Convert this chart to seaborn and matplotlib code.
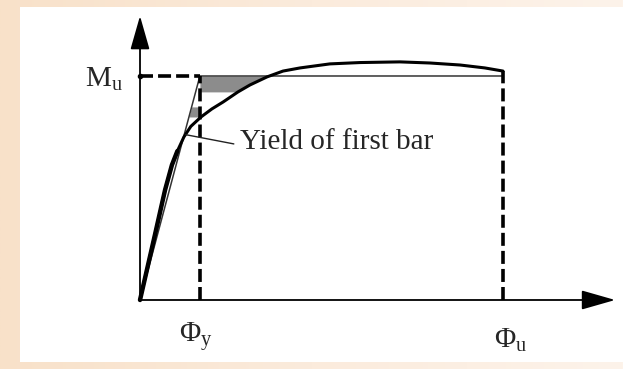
import numpy as np
import seaborn as sns
import matplotlib.pyplot as plt
from matplotlib.patches import Rectangle
from matplotlib.colors import LinearSegmentedColormap

# moment-curvature curve, curvature normalised by phi_u, moment by M_u
phi_curve = [0.0, 0.041, 0.069, 0.088, 0.103, 0.121, 0.140, 0.168, 0.198, 0.229,
             0.270, 0.303, 0.350, 0.394, 0.441, 0.523, 0.606, 0.716, 0.799, 0.882,
             0.950, 1.000]
m_curve = [0.0, 0.290, 0.491, 0.603, 0.665, 0.728, 0.775, 0.817, 0.853, 0.884,
           0.929, 0.960, 0.996, 1.022, 1.036, 1.054, 1.060, 1.063, 1.058, 1.049,
           1.036, 1.022]
phi_y = 0.165
phi_u = 1.0
m_u = 1.0
upper_band = [0.929, 1.0]   # shaded area above the curve
lower_band = [0.817, 0.862]  # shaded area left of the dashed line
yield_point = [0.121, 0.728]
labels = {"mu": "$\\mathrm{M_u}$", "phiy": "$\\mathrm{\\Phi_y}$",
          "phiu": "$\\mathrm{\\Phi_u}$", "yield": "Yield of first bar"}

sns.set_theme(style="white")
plt.rcParams["font.family"] = ["Liberation Serif", "DejaVu Serif"]
plt.rcParams["mathtext.fontset"] = "custom"
plt.rcParams["mathtext.rm"] = "Liberation Serif"
plt.rcParams["mathtext.it"] = "Liberation Serif:italic"

fig = plt.figure(figsize=(6.23, 3.69), dpi=100)

# peach background with a soft gradient, white panel on top
bg = fig.add_axes([0, 0, 1, 1])
grad = np.linspace(0, 1, 256)[None, :]
cmap = LinearSegmentedColormap.from_list("peach", ["#f8e1c9", "#fbebdc", "#fdf3ea"])
bg.imshow(grad, aspect="auto", cmap=cmap, extent=[0, 1, 0, 1])
bg.add_patch(Rectangle((20 / 623, 7 / 369), 603 / 623, 355 / 369,
                       color="white", lw=0))
bg.set_xlim(0, 1)
bg.set_ylim(0, 1)
bg.set_axis_off()

ax = fig.add_axes([20 / 623, 7 / 369, 603 / 623, 355 / 369])
ax.set_facecolor("none")
ax.set_xlim(-0.3306, 1.3306)
ax.set_ylim(-0.2768, 1.308)
ax.set_axis_off()

# shaded regions
m1 = np.linspace(upper_band[0], upper_band[1], 50)
ax.fill_betweenx(m1, phi_y, np.interp(m1, m_curve[:14], phi_curve[:14]),
                 color="#8c8c8c", lw=0)
m2 = np.linspace(lower_band[0], lower_band[1], 20)
ax.fill_betweenx(m2, m2 * phi_y / m_u, phi_y, color="#8c8c8c", lw=0)

# axes with arrows
arrow = dict(arrowstyle="-|>,head_length=1.05,head_width=0.3", lw=1.3,
             color="black", mutation_scale=20, shrinkA=0, shrinkB=0)
ax.annotate("", xy=(0, 1.268), xytext=(0, 0), arrowprops=arrow)
ax.annotate("", xy=(1.309, 0), xytext=(0, 0), arrowprops=arrow)

# idealised bilinear response
ax.plot([0, phi_y, phi_u], [0, m_u, m_u], color="#333333", lw=1.1)

# dashed guides
dash = dict(color="black", lw=2.6, dashes=(3.6, 1.4))
ax.plot([0, phi_y], [m_u, m_u], **dash)
ax.plot([phi_y, phi_y], [0, m_u], **dash)
ax.plot([phi_u, phi_u], [0, m_curve[-1]], **dash)
ax.plot([0], [m_u], "o", color="black", ms=3)

# actual curve
sns.lineplot(x=phi_curve, y=m_curve, sort=False, estimator=None, ax=ax,
             color="black", lw=2.2)
sns.lineplot(x=phi_curve[:5], y=m_curve[:5], sort=False, estimator=None, ax=ax,
             color="black", lw=3.2)

# labels
ax.text(-0.152, m_u - 0.049, labels["mu"], fontsize=21, ha="left", va="baseline")
ax.text(phi_y - 0.01, -0.187, labels["phiy"], fontsize=21, ha="center", va="baseline")
ax.text(phi_u + 0.02, -0.213, labels["phiu"], fontsize=21, ha="center", va="baseline")
ax.annotate(labels["yield"], xy=(yield_point[0] + 0.005, yield_point[1] + 0.01),
            xytext=(0.275, 0.672), fontsize=21, ha="left", va="baseline",
            arrowprops=dict(arrowstyle="-", lw=1.0, color="#222222",
                            shrinkA=2, shrinkB=0,
                            relpos=(0, 0.4)))

fig.savefig("out.png", dpi=100)
